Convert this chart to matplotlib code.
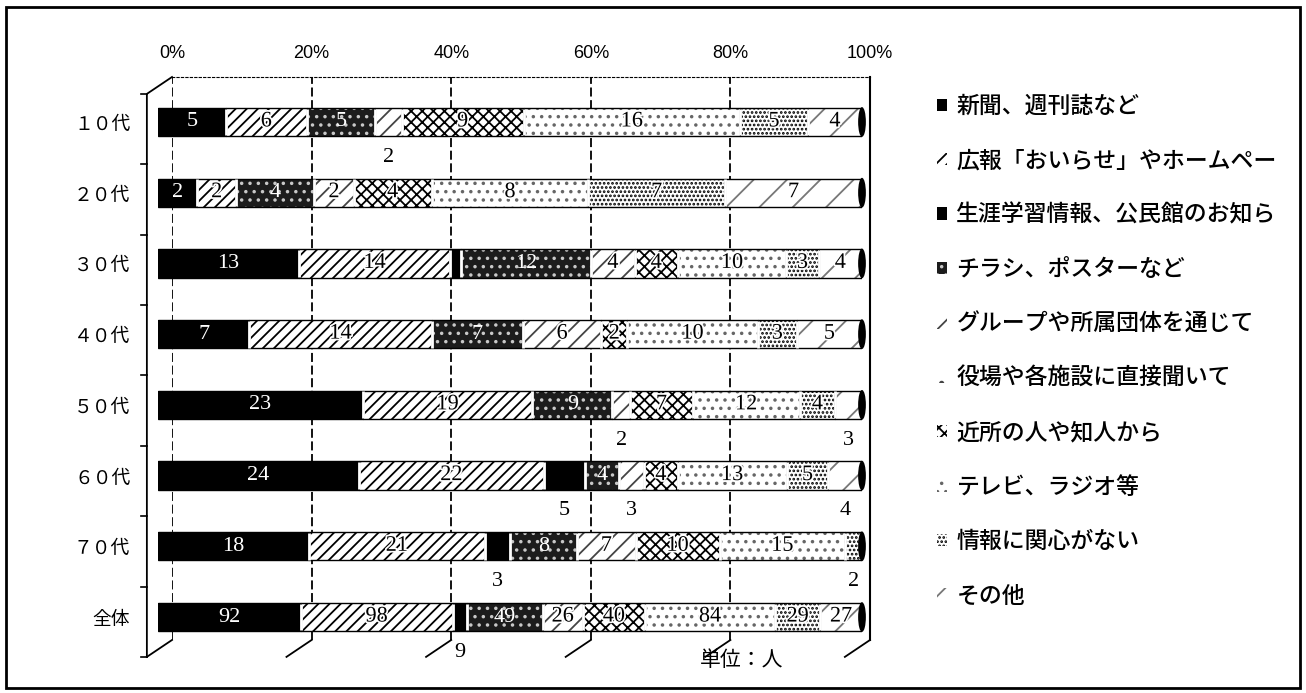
import numpy as np
import matplotlib.pyplot as plt
import matplotlib.patheffects as pe
from matplotlib.patches import Patch, Ellipse, Rectangle

plt.rcParams['font.family'] = ['Noto Sans CJK JP', 'DejaVu Sans']
plt.rcParams['hatch.linewidth'] = 1.3

# 年代
ages = ['１０代', '２０代', '３０代', '４０代', '５０代', '６０代', '７０代', '全体']

# 情報の入手先
sources = ['新聞、週刊誌など', '広報「おいらせ」やホームペー', '生涯学習情報、公民館のお知ら',
           'チラシ、ポスターなど', 'グループや所属団体を通じて', '役場や各施設に直接聞いて',
           '近所の人や知人から', 'テレビ、ラジオ等', '情報に関心がない', 'その他']

# 人数（年代順）
newspaper = [5, 2, 13, 7, 23, 24, 18, 92]
kouhou = [6, 2, 14, 14, 19, 22, 21, 98]
gakushu = [0, 0, 1, 0, 0, 5, 3, 9]
chirashi = [5, 4, 12, 7, 9, 4, 8, 49]
group = [2, 2, 4, 6, 2, 3, 7, 26]
yakuba = [0, 0, 0, 0, 0, 0, 0, 0]
kinjo = [9, 4, 4, 2, 7, 4, 10, 40]
tv_radio = [16, 8, 10, 10, 12, 13, 15, 84]
mukanshin = [5, 7, 3, 3, 4, 5, 2, 29]
sonota = [4, 7, 4, 5, 3, 4, 0, 27]

# (年代, 項目) : 棒の下に出すラベル / 出さないラベル
below = {(0, 4), (4, 4), (4, 9), (5, 2), (5, 4), (5, 9), (6, 2), (6, 8), (7, 2)}
hidden = {(2, 2)}

# 塗り・ハッチ（白黒印刷風）
styles = [
    dict(fc='black', hc='black', hatch=None),
    dict(fc='white', hc='black', hatch='///'),
    dict(fc='black', hc='black', hatch=None),
    dict(fc='#1c1c1c', hc='#c8c8c8', hatch='..'),
    dict(fc='white', hc='#444444', hatch='//'),
    dict(fc='white', hc='#444444', hatch='.'),
    dict(fc='white', hc='black', hatch='xxx'),
    dict(fc='white', hc='#666666', hatch='..'),
    dict(fc='white', hc='black', hatch='....'),
    dict(fc='white', hc='#777777', hatch='/'),
]
dark = {0, 2, 3}

data = np.array([newspaper, kouhou, gakushu, chirashi, group, yakuba,
                 kinjo, tv_radio, mukanshin, sonota], dtype=float)
totals = data.sum(axis=0)
pct = data / totals * 100

W, H = 1306, 693
fig = plt.figure(figsize=(W / 100, H / 100), dpi=100)

# 奥の壁（目盛線と％ラベル）
wall = fig.add_axes([172 / W, 1 - 640 / H, 698 / W, 563 / H], zorder=0)
wall.set_xlim(0, 100)
wall.set_ylim(0, 1)
ticks = list(range(0, 101, 20))
wall.set_xticks(ticks)
wall.set_xticklabels([f'{t}%' for t in ticks], family=['Liberation Sans', 'DejaVu Sans'])
wall.xaxis.tick_top()
wall.tick_params(axis='x', length=0, pad=11, labelsize=13)
wall.set_yticks([])
wall.grid(axis='x', color='black', lw=1.3, ls=(0, (5, 2)))
wall.spines['left'].set_visible(False)
wall.spines['bottom'].set_visible(False)
wall.spines['top'].set_linestyle((0, (2, 2)))
wall.spines['right'].set_linewidth(1.5)

# 奥行き
depth_x, depth_y = -3.6, -0.03
tr = wall.get_xaxis_transform()
for t in ticks:
    wall.plot([t, t + depth_x], [0, depth_y], transform=tr, color='black', lw=1.3, clip_on=False)
wall.plot([0, depth_x, depth_x], [1, 1 + depth_y, depth_y], transform=tr,
          color='black', lw=1.3, clip_on=False)
for k in range(len(ages) + 1):
    yk = k / len(ages) + depth_y
    wall.plot([depth_x, depth_x - 0.8], [yk, yk], transform=tr, color='black', lw=1.2, clip_on=False)

# 帯グラフ
ax = fig.add_axes([158 / W, 1 - 652.4 / H, 704 / W, 565.8 / H], zorder=1)
ax.patch.set_visible(False)
halo = [pe.withStroke(linewidth=2.5, foreground='white')]
y = np.arange(len(ages))
left = np.zeros(len(ages))
for i, st in enumerate(styles):
    nz = data[i] > 0
    ax.barh(y[nz], pct[i][nz], left=left[nz], height=0.4, color=st['fc'],
            edgecolor=st['hc'], hatch=st['hatch'], linewidth=0)
    ax.barh(y[nz], pct[i][nz], left=left[nz], height=0.4, fill=False,
            edgecolor='black', linewidth=1.0)
    if i > 0:
        ax.vlines(left[nz], y[nz] - 0.19, y[nz] + 0.19, color='white', lw=2)
    for r in np.nonzero(nz)[0]:
        if (r, i) in hidden:
            continue
        cx = left[r] + pct[i][r] / 2
        if (r, i) in below:
            ax.text(cx, r + 0.5, f'{int(data[i][r])}', ha='center', va='center',
                    fontsize=16, family='Liberation Serif', color='black')
        elif i in dark:
            ax.text(cx, r, f'{int(data[i][r])}', ha='center', va='center',
                    fontsize=16, family='Liberation Serif', color='white')
        else:
            ax.text(cx, r, f'{int(data[i][r])}', ha='center', va='center',
                    fontsize=16, family='Liberation Serif', color='black',
                    path_effects=halo)
    left += pct[i]

# 円柱の端
for r in y:
    ax.add_patch(Ellipse((100, r), 1.1, 0.42, facecolor='black', edgecolor='none', clip_on=False))

ax.set_xlim(0, 100)
ax.set_ylim(len(ages) - 0.5, -0.5)
ax.set_xticks([])
ax.set_yticks(y)
ax.set_yticklabels(ages)
ax.tick_params(axis='y', length=0, pad=20, labelsize=13.5)
for s in ax.spines.values():
    s.set_visible(False)

# 凡例
handles = [Patch(facecolor=st['fc'], edgecolor=st['hc'], hatch=st['hatch'], linewidth=0)
           for st in styles]
fig.legend(handles, sources, loc='upper left', bbox_to_anchor=(937 / W, 1 - 95 / H),
           frameon=False, prop=dict(size=16.5, weight='medium'), handlelength=0.45,
           handleheight=0.45, handletextpad=0.4, labelspacing=1.37, borderpad=0,
           borderaxespad=0)

fig.text(742 / W, 1 - 660 / H, '単位：人', ha='center', va='center', fontsize=15)

fig.patches.append(Rectangle((6 / W, 1 - 688 / H), 1294 / W, 681 / H, transform=fig.transFigure,
                             fill=False, edgecolor='black', lw=2))

fig.savefig('out.png', dpi=100)
